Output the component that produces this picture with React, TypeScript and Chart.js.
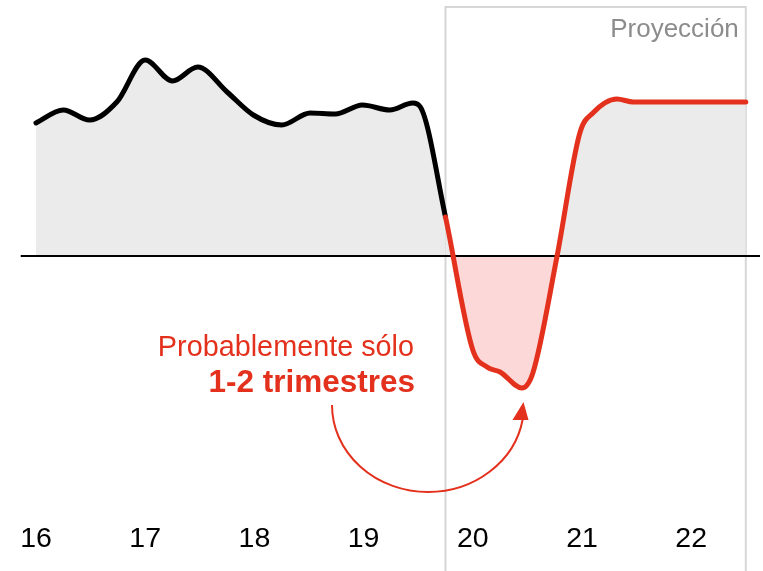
import React, { useEffect, useRef } from "react";
import { Chart, registerables } from "chart.js";

Chart.register(...registerables);

// ---- data ----
const PERIODS = [
  2016.0, 2016.25, 2016.49, 2016.74, 2017.0, 2017.25, 2017.48, 2017.75, 2017.99,
  2018.25, 2018.51, 2018.74, 2018.99, 2019.24, 2019.45, 2019.52, 2019.75,
  2020.0, 2020.13, 2020.25, 2020.45, 2020.55, 2020.77, 2020.98, 2021.1,
  2021.32, 2021.47, 2022.5,
];
const GROWTH = [
  2.66, 2.92, 2.72, 3.08, 3.92, 3.5, 3.78, 3.28, 2.82,
  2.62, 2.86, 2.84, 3.02, 2.92, 3.06, 2.98, 0.78,
  -1.88, -2.22, -2.32, -2.64, -2.34, -0.02, 2.46, 2.86,
  3.14, 3.08, 3.08,
];
const TICK_YEARS = [2016, 2017, 2018, 2019, 2020, 2021, 2022];
const TICK_LABELS = ["16", "17", "18", "19", "20", "21", "22"];
const PROJECTION_START = 2019.75;
const PROJECTION_END = 2022.5;
const PROJECTION_LABEL = "Proyección";
const NOTE_LINE_1 = "Probablemente sólo";
const NOTE_LINE_2 = "1-2 trimestres";

// ---- styles ----
const RED = "#e3311d";
const BLACK = "#000000";
const FONT = "'Liberation Sans', Arial, Helvetica, sans-serif";

const annotationPlugin = {
  id: "annotations",
  beforeDraw(chart: any) {
    const { ctx } = chart;
    const xs = chart.scales.x;
    const x0 = xs.getPixelForValue(PROJECTION_START);
    const x1 = xs.getPixelForValue(PROJECTION_END);
    ctx.save();
    ctx.strokeStyle = "#d6d6d6";
    ctx.lineWidth = 2;
    ctx.beginPath();
    ctx.moveTo(x0, chart.height);
    ctx.lineTo(x0, 7);
    ctx.lineTo(x1, 7);
    ctx.lineTo(x1, chart.height);
    ctx.stroke();
    ctx.restore();
  },
  beforeDatasetsDraw(chart: any) {
    const { ctx } = chart;
    const xs = chart.scales.x;
    const ys = chart.scales.y;
    const y0 = ys.getPixelForValue(0);
    ctx.save();
    ctx.strokeStyle = "#000";
    ctx.lineWidth = 2;
    ctx.beginPath();
    ctx.moveTo(xs.getPixelForValue(2015.86), y0);
    ctx.lineTo(xs.getPixelForValue(2022.63), y0);
    ctx.stroke();
    ctx.restore();
  },
  afterDraw(chart: any) {
    const { ctx } = chart;
    const xs = chart.scales.x;
    ctx.save();
    // Projection label
    ctx.fillStyle = "#8c8c8c";
    ctx.font = `26px ${FONT}`;
    ctx.textAlign = "right";
    ctx.textBaseline = "alphabetic";
    ctx.fillText(PROJECTION_LABEL, xs.getPixelForValue(PROJECTION_END) - 7, 37);

    // Note
    ctx.fillStyle = RED;
    ctx.font = `28.8px ${FONT}`;
    ctx.fillText(NOTE_LINE_1, 414, 356);
    ctx.font = `bold 31.5px ${FONT}`;
    ctx.fillText(NOTE_LINE_2, 415, 392);

    // Arrow
    const cx = 428, cy = 405, rx = 96, ry = 87, endA = 0.17;
    ctx.strokeStyle = RED;
    ctx.lineWidth = 2;
    ctx.beginPath();
    ctx.ellipse(cx, cy, rx, ry, 0, Math.PI, endA, true);
    ctx.stroke();
    ctx.fillStyle = RED;
    ctx.beginPath();
    ctx.moveTo(523.5, 402);
    ctx.lineTo(512.5, 420);
    ctx.lineTo(528.5, 420);
    ctx.closePath();
    ctx.fill();
    ctx.restore();
  },
};

export default function App() {
  const canvasRef = useRef<HTMLCanvasElement | null>(null);

  useEffect(() => {
    const canvas = canvasRef.current;
    if (!canvas) return;
    const points = PERIODS.map((x, i) => ({ x, y: GROWTH[i] }));
    const chart = new Chart(canvas, {
      type: "line",
      data: {
        datasets: [
          {
            data: points,
            borderWidth: 5,
            borderColor: BLACK,
            pointRadius: 0,
            cubicInterpolationMode: "monotone",
            borderCapStyle: "round",
            borderJoinStyle: "round",
            fill: { target: { value: 0 }, above: "#ebebeb", below: "#fdd8d8" },
            segment: {
              borderColor: (c: any) =>
                c.p0.parsed.x >= PROJECTION_START - 1e-6 ? RED : BLACK,
            },
          } as any,
        ],
      },
      options: {
        animation: false,
        responsive: false,
        layout: { padding: 0 },
        events: [],
        plugins: {
          legend: { display: false },
          tooltip: { enabled: false },
          filler: { drawTime: "beforeDatasetsDraw" },
        } as any,
        scales: {
          x: {
            type: "linear",
            min: 2015.6703,
            max: 2022.6575,
            grid: { display: false, drawTicks: false },
            border: { display: false },
            afterBuildTicks: (scale: any) => {
              scale.ticks = TICK_YEARS.map((v) => ({ value: v }));
            },
            afterFit: (scale: any) => {
              scale.height = 51;
            },
            ticks: {
              autoSkip: false,
              maxRotation: 0,
              padding: 2,
              color: "#000",
              font: { family: FONT, size: 28.5 },
              callback: (v: any) => {
                const i = TICK_YEARS.indexOf(Number(v));
                return i >= 0 ? TICK_LABELS[i] : "";
              },
            },
          },
          y: {
            type: "linear",
            display: false,
            min: -5.28,
            max: 5.12,
          },
        },
      },
      plugins: [annotationPlugin],
    });
    return () => chart.destroy();
  }, []);

  return (
    <div style={{ position: "fixed", left: 0, top: 0, width: 763, height: 571, background: "#fff" }}>
      <canvas ref={canvasRef} width={763} height={571} />
    </div>
  );
}
